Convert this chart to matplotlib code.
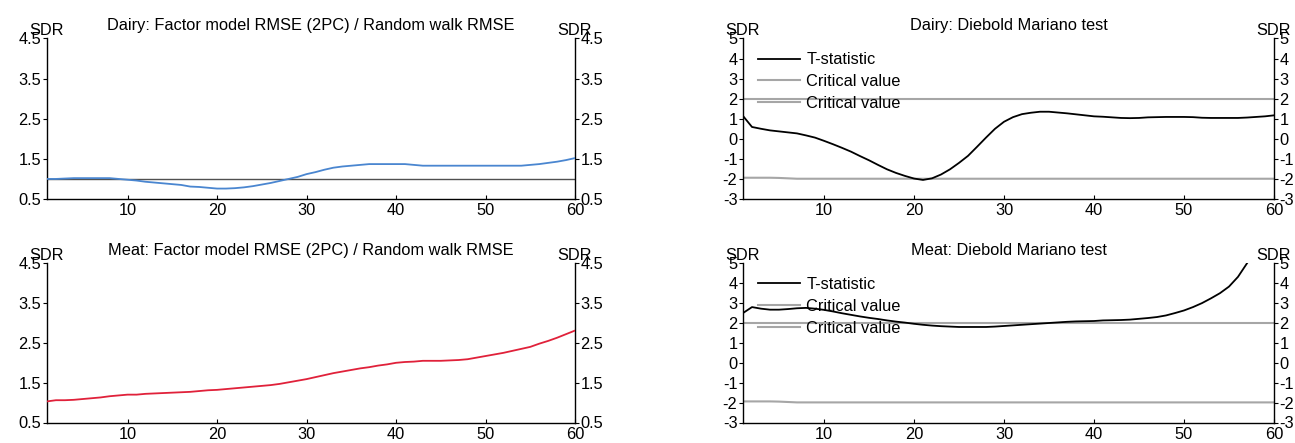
import matplotlib
matplotlib.use("Agg")
import matplotlib.pyplot as plt
from matplotlib.lines import Line2D

plt.rcParams['font.family'] = ['Liberation Sans', 'DejaVu Sans']
plt.rcParams['axes.unicode_minus'] = False

horizons = list(range(1, 61))

dairy_ratio = [1.00, 1.00, 1.01, 1.02, 1.02, 1.02, 1.02, 1.02, 1.00, 0.98,
               0.96, 0.93, 0.91, 0.89, 0.87, 0.85, 0.81, 0.80, 0.78, 0.76,
               0.76, 0.77, 0.79, 0.82, 0.86, 0.90, 0.95, 1.00, 1.05, 1.12,
               1.17, 1.23, 1.28, 1.31, 1.33, 1.35, 1.37, 1.37, 1.37, 1.37,
               1.37, 1.35, 1.33, 1.33, 1.33, 1.33, 1.33, 1.33, 1.33, 1.33,
               1.33, 1.33, 1.33, 1.33, 1.35, 1.37, 1.40, 1.43, 1.47, 1.52]

meat_ratio = [1.03, 1.06, 1.06, 1.07, 1.09, 1.11, 1.13, 1.16, 1.18, 1.20,
              1.20, 1.22, 1.23, 1.24, 1.25, 1.26, 1.27, 1.29, 1.31, 1.32,
              1.34, 1.36, 1.38, 1.40, 1.42, 1.44, 1.47, 1.51, 1.55, 1.59,
              1.64, 1.69, 1.74, 1.78, 1.82, 1.86, 1.89, 1.93, 1.96, 2.00,
              2.02, 2.03, 2.05, 2.05, 2.05, 2.06, 2.07, 2.09, 2.13, 2.17,
              2.21, 2.25, 2.30, 2.35, 2.40, 2.48, 2.55, 2.63, 2.72, 2.81]

dairy_tstat = [1.14, 0.59, 0.50, 0.42, 0.37, 0.32, 0.27, 0.17, 0.06, -0.10,
               -0.27, -0.45, -0.64, -0.86, -1.07, -1.30, -1.52, -1.70, -1.85, -1.98,
               -2.05, -1.97, -1.78, -1.52, -1.20, -0.85, -0.40, 0.06, 0.50, 0.85,
               1.08, 1.23, 1.30, 1.35, 1.35, 1.31, 1.27, 1.22, 1.17, 1.12,
               1.10, 1.07, 1.04, 1.03, 1.04, 1.07, 1.08, 1.09, 1.09, 1.09,
               1.08, 1.05, 1.04, 1.04, 1.04, 1.04, 1.06, 1.09, 1.12, 1.17]

meat_tstat = [2.50, 2.80, 2.72, 2.67, 2.67, 2.70, 2.74, 2.76, 2.72, 2.66,
              2.58, 2.49, 2.41, 2.33, 2.26, 2.20, 2.13, 2.07, 2.02, 1.96,
              1.91, 1.87, 1.84, 1.82, 1.80, 1.80, 1.80, 1.80, 1.82, 1.85,
              1.88, 1.91, 1.94, 1.97, 2.00, 2.03, 2.06, 2.08, 2.09, 2.10,
              2.13, 2.14, 2.15, 2.17, 2.21, 2.25, 2.30, 2.38, 2.50, 2.63,
              2.80, 3.00, 3.24, 3.50, 3.83, 4.32, 5.00]

crit_upper = [1.98] * 60
crit_lower = [-1.94, -1.94, -1.94, -1.94, -1.95, -1.97] + [-1.99] * 54

x_ticks = [10, 20, 30, 40, 50, 60]
ratio_ticks = [0.5, 1.5, 2.5, 3.5, 4.5]
ratio_ticklabels = ['0.5', '1.5', '2.5', '3.5', '4.5']
dm_ticks = [-3, -2, -1, 0, 1, 2, 3, 4, 5]

titles = ["Dairy: Factor model RMSE (2PC) / Random walk RMSE",
          "Dairy: Diebold Mariano test",
          "Meat: Factor model RMSE (2PC) / Random walk RMSE",
          "Meat: Diebold Mariano test"]

BLUE = '#4a86d0'
RED = '#e0213a'
GREY = '#a6a6a6'
FS = 11.8

fig = plt.figure(figsize=(12.95, 4.43), dpi=100)
W, H = 1295, 443

def make_ax(l, r, t, b):
    return fig.add_axes([l / W, 1 - b / H, (r - l) / W, (b - t) / H])

ax_tl = make_ax(47, 575, 38.5, 199)
ax_tr = make_ax(743, 1274, 38.5, 199)
ax_bl = make_ax(47, 575, 263.3, 422.5)
ax_br = make_ax(743, 1274, 263.3, 422.5)


def style(ax, yticks, ylim, title, ylabels=None):
    ax.set_xlim(1, 60)
    ax.set_ylim(*ylim)
    ax.set_xticks(x_ticks)
    ax.set_yticks(yticks)
    if ylabels is not None:
        ax.set_yticklabels(ylabels)
    ax.spines['top'].set_visible(False)
    for s in ['left', 'right', 'bottom']:
        ax.spines[s].set_linewidth(1.0)
        ax.spines[s].set_color('black')
    ax.tick_params(axis='x', direction='in', length=3, labelsize=FS, pad=3)
    ax.tick_params(axis='y', direction='out', length=3, labelsize=FS, pad=1,
                   left=True, right=True, labelleft=True, labelright=True)
    ax.set_title(title, fontsize=FS, pad=6)
    for xf in (0, 1):
        ax.annotate('SDR', xy=(xf, 1), xycoords='axes fraction',
                    xytext=(0, 2.5), textcoords='offset points',
                    ha='center', va='baseline', fontsize=FS)


ax_tl.plot(horizons, dairy_ratio, color=BLUE, lw=1.3, zorder=3)
ax_tl.axhline(1.0, color='#505050', lw=1.0, zorder=2)
style(ax_tl, ratio_ticks, (0.5, 4.5), titles[0], ratio_ticklabels)

ax_bl.plot(horizons, meat_ratio, color=RED, lw=1.3, zorder=3)
style(ax_bl, ratio_ticks, (0.5, 4.5), titles[2], ratio_ticklabels)


def dm_panel(ax, tstat, title):
    ax.plot(horizons[:len(tstat)], tstat, color='black', lw=1.3, zorder=3)
    ax.plot(horizons, crit_upper, color=GREY, lw=1.5, zorder=2)
    ax.plot(horizons, crit_lower, color=GREY, lw=1.5, zorder=2)
    style(ax, dm_ticks, (-3, 5), title)
    handles = [Line2D([], [], color='black', lw=1.3),
               Line2D([], [], color=GREY, lw=1.5),
               Line2D([], [], color=GREY, lw=1.5)]
    ax.legend(handles, ['T-statistic', 'Critical value', 'Critical value'],
              loc='upper left', bbox_to_anchor=(0.011, 0.97), frameon=False,
              fontsize=FS, handlelength=2.6, handletextpad=0.35,
              labelspacing=0.42, borderaxespad=0.0, borderpad=0.55)


dm_panel(ax_tr, dairy_tstat, titles[1])
dm_panel(ax_br, meat_tstat, titles[3])

fig.savefig('out.png', dpi=100)
